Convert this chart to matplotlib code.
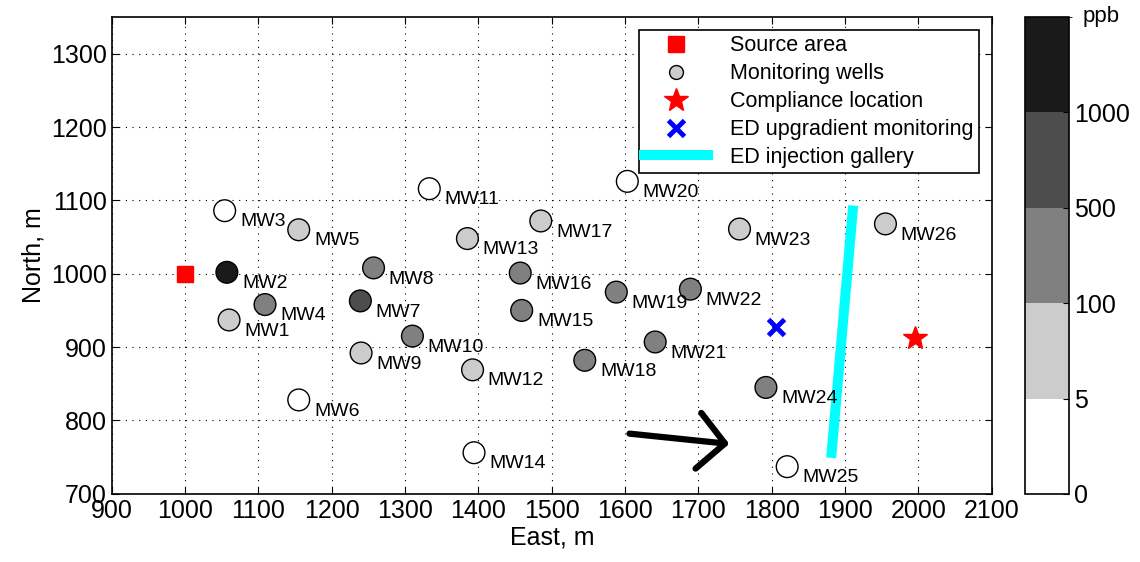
import matplotlib
matplotlib.use("Agg")
import matplotlib.pyplot as plt
import numpy as np
from matplotlib.colors import ListedColormap, BoundaryNorm
from matplotlib.lines import Line2D
from matplotlib.cm import ScalarMappable

plt.rcParams["font.family"] = ["Liberation Sans", "DejaVu Sans"]

# monitoring wells: name, east, north, concentration (ppb, class representative)
wells = ["MW1", "MW2", "MW3", "MW4", "MW5", "MW6", "MW7", "MW8", "MW9", "MW10",
         "MW11", "MW12", "MW13", "MW14", "MW15", "MW16", "MW17", "MW18", "MW19",
         "MW20", "MW21", "MW22", "MW23", "MW24", "MW25", "MW26"]
east = [1060, 1057, 1054, 1109, 1155, 1155, 1239, 1257, 1240, 1310,
        1333, 1392, 1385, 1394, 1459, 1457, 1485, 1545, 1588,
        1603, 1641, 1689, 1756, 1792, 1821, 1955]
north = [937, 1002, 1086, 958, 1060, 828, 963, 1008, 892, 915,
         1116, 869, 1048, 756, 950, 1001, 1072, 882, 975,
         1126, 907, 979, 1061, 845, 737, 1068]
conc = [50, 2000, 2, 300, 50, 2, 700, 300, 50, 300,
        2, 50, 50, 2, 300, 300, 50, 300, 300,
        2, 300, 300, 50, 300, 2, 50]

source_xy = (1000, 1000)
compliance_xy = (1995, 912)
upgradient_xy = (1806, 928)
gallery_x = [1881, 1911]
gallery_y = [749, 1093]
flow_tail = (1606, 782)
flow_tip = (1742, 768)

levels = [0, 5, 100, 500, 1000, 5000]
level_colors = ["#ffffff", "#cccccc", "#808080", "#4d4d4d", "#1a1a1a"]
cmap = ListedColormap(level_colors)
norm = BoundaryNorm(levels, cmap.N)

fig = plt.figure(figsize=(11.4, 5.62), dpi=100)
ax = fig.add_axes([0.098, 0.121, 0.772, 0.849])
cax = fig.add_axes([0.899, 0.121, 0.039, 0.849])

ax.plot(gallery_x, gallery_y, color="cyan", lw=7.2, solid_capstyle="butt", zorder=2)
ax.plot(*source_xy, "s", color="red", ms=12, zorder=3)
ax.scatter(east, north, c=conc, cmap=cmap, norm=norm, s=245,
           edgecolors="black", linewidths=1.0, zorder=4)
for name, x, y in zip(wells, east, north):
    ax.annotate(name, (x, y), xytext=(11, -8), textcoords="offset points",
                ha="left", va="center", fontsize=14, zorder=5)
ax.plot(*compliance_xy, "*", color="red", ms=18, mec="red", zorder=3)
ax.plot(*upgradient_xy, "x", color="blue", ms=11, mew=3.5, zorder=3)
ax.annotate("", xy=flow_tip, xytext=flow_tail,
            arrowprops=dict(arrowstyle="->,head_length=0.4,head_width=0.42",
                            mutation_scale=48, lw=4.5, color="black",
                            shrinkA=0, shrinkB=0), zorder=3)

ax.set_xlim(900, 2100)
ax.set_ylim(700, 1350)
ax.set_aspect("equal", adjustable="box")
ax.set_xticks(np.arange(900, 2101, 100))
ax.set_yticks(np.arange(700, 1301, 100))
ax.grid(True, color="black", ls=(0, (1, 5)), lw=0.8)
ax.tick_params(direction="in", top=True, right=True, labelsize=18, length=5)
ax.set_xlabel("East, m", fontsize=18, labelpad=2)
ax.set_ylabel("North, m", fontsize=18)
for s in ax.spines.values():
    s.set_linewidth(1.2)

handles = [
    Line2D([], [], ls="none", marker="s", color="red", ms=12),
    Line2D([], [], ls="none", marker="o", mfc="#cccccc", mec="black", ms=10),
    Line2D([], [], ls="none", marker="*", color="red", ms=18),
    Line2D([], [], ls="none", marker="x", color="blue", ms=11, mew=3.5),
    Line2D([], [], color="cyan", lw=7.2),
]
labels = ["Source area", "Monitoring wells", "Compliance location",
          "ED upgradient monitoring", "ED injection gallery"]
leg = ax.legend(handles, labels, loc="upper right", fontsize=15.5,
                fancybox=False, framealpha=1, edgecolor="black",
                borderaxespad=0.6, handlelength=3, labelspacing=0.32,
                borderpad=0.25, handletextpad=1.0)
leg.get_frame().set_linewidth(1.2)

cb = fig.colorbar(ScalarMappable(norm=norm, cmap=cmap), cax=cax,
                  spacing="uniform", ticks=levels[:-1])
cb.ax.tick_params(labelsize=18, direction="in", length=4)
cb.outline.set_linewidth(1.2)
cax.text(1.3, 1.0, "ppb", transform=cax.transAxes, fontsize=16,
         ha="left", va="center")

fig.savefig("out.png", dpi=100)
